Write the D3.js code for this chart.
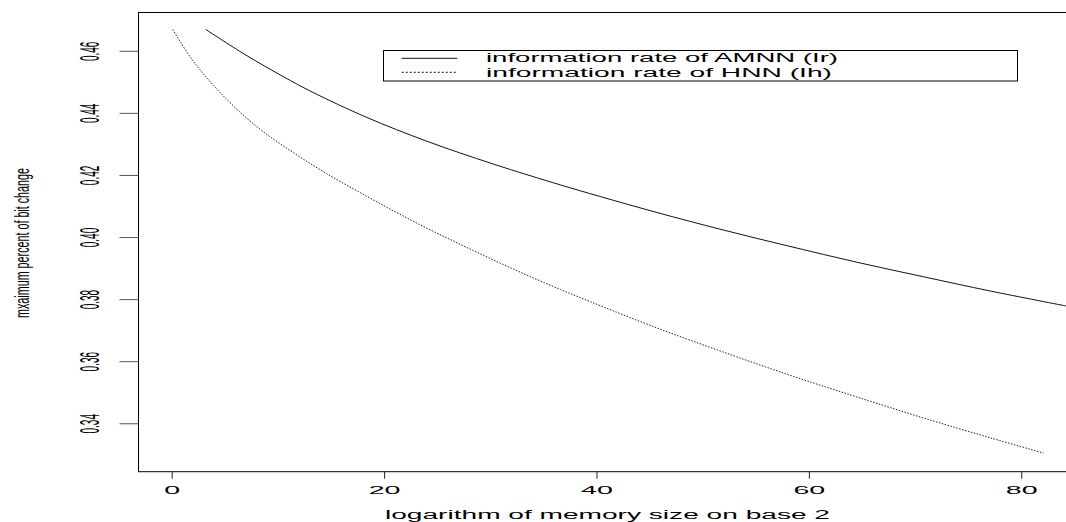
<!DOCTYPE html>
<html>
<head>
<meta charset="utf-8">
<script src="https://cdn.jsdelivr.net/npm/d3@7/dist/d3.min.js"></script>
<style>
  html, body { margin: 0; padding: 0; background: #fff; }
  svg { display: block; }
  text { font-family: "Liberation Sans", Arial, Helvetica, sans-serif; fill: #000; }
</style>
</head>
<body>
<svg id="chart" width="1066" height="522"></svg>
<script>
// ---- data ----
const irX = [3.2, 6.9, 10.5, 13.3, 18.4, 24.0, 30.3, 36.6, 40.3, 45.7, 51.9, 58.2, 64.5, 70.8, 77.1, 84.2];
const irY = [0.4669, 0.4588, 0.4517, 0.4466, 0.4385, 0.4309, 0.4235, 0.4168, 0.4131, 0.4079, 0.4023, 0.3970, 0.3919, 0.3872, 0.3826, 0.3778];
const ihX = [0.1, 2.0, 5.2, 8.3, 11.5, 14.6, 17.7, 20.9, 24.0, 27.2, 30.3, 33.4, 36.6, 39.4, 45.7, 51.9, 58.2, 64.5, 70.8, 77.1, 82.1];
const ihY = [0.4669, 0.4568, 0.4443, 0.4348, 0.4271, 0.4204, 0.4144, 0.4084, 0.4029, 0.3976, 0.3926, 0.3878, 0.3831, 0.3792, 0.3707, 0.3630, 0.3555, 0.3485, 0.3417, 0.3353, 0.3304];
const xTicks = [0, 20, 40, 60, 80];
const yTicks = [0.34, 0.36, 0.38, 0.40, 0.42, 0.44, 0.46];
const legendLabels = ["information rate of AMNN (Ir)", "information rate of HNN (Ih)"];
const xTitle = "logarithm of memory size on base 2";
const yTitle = "mxaimum percent of bit change";

// ---- layout ----
const L = 138, R = 1070, T = 12, B = 471.7;
const svg = d3.select("#chart");

const x = d3.scaleLinear().domain([-3.173, 84.59]).range([L, R]);
const y = d3.scaleLinear().domain([0.3244, 0.4725]).range([B, T]);

svg.append("defs").append("clipPath").attr("id", "clip")
  .append("rect").attr("x", L).attr("y", T).attr("width", R - L).attr("height", B - T);

// plot box
svg.append("rect")
  .attr("x", L + 0.5).attr("y", T + 0.5)
  .attr("width", R - L).attr("height", B - T - 0.5)
  .attr("fill", "none").attr("stroke", "#000").attr("stroke-width", 1);

// y axis
const gy = svg.append("g").attr("transform", `translate(${L + 0.5},0)`)
  .call(d3.axisLeft(y).tickValues(yTicks).tickSize(19).tickFormat(d3.format(".2f")));
gy.select(".domain").remove();
gy.selectAll(".tick line").attr("stroke", "#555");
gy.selectAll(".tick text")
  .attr("x", 0).attr("y", 0).attr("dy", 0)
  .attr("text-anchor", "middle")
  .attr("font-size", 10)
  .attr("fill", "#000")
  .attr("transform", "translate(-39.5,0) rotate(-90) scale(1,2.75)");

// x axis
const gx = svg.append("g").attr("transform", `translate(0,${B})`)
  .call(d3.axisBottom(x).tickValues(xTicks).tickSize(7).tickFormat(d3.format("d")));
gx.select(".domain").remove();
gx.selectAll(".tick line").attr("stroke", "#222");
gx.selectAll(".tick text")
  .attr("x", 0).attr("y", 0).attr("dy", 0)
  .attr("text-anchor", "middle")
  .attr("font-size", 11)
  .attr("fill", "#000")
  .attr("transform", "translate(0,22.6) scale(2.6,1)");

// axis titles
svg.append("text")
  .attr("x", 385).attr("y", 519)
  .attr("font-size", 12.5)
  .attr("textLength", 445).attr("lengthAdjust", "spacingAndGlyphs")
  .text(xTitle);

svg.append("text")
  .attr("transform", "translate(29,243) rotate(-90) scale(1,1.8)")
  .attr("text-anchor", "middle")
  .attr("font-size", 11)
  .attr("textLength", 150).attr("lengthAdjust", "spacingAndGlyphs")
  .text(yTitle);

// curves
const line = d3.line().x(d => x(d[0])).y(d => y(d[1])).curve(d3.curveCatmullRom.alpha(0.5));
const plot = svg.append("g").attr("clip-path", "url(#clip)");
plot.append("path")
  .datum(irX.map((v, i) => [v, irY[i]]))
  .attr("d", line)
  .attr("fill", "none").attr("stroke", "#111").attr("stroke-width", 1);
plot.append("path")
  .datum(ihX.map((v, i) => [v, ihY[i]]))
  .attr("d", line)
  .attr("fill", "none").attr("stroke", "#222").attr("stroke-width", 1)
  .attr("stroke-dasharray", "1.5,1.5");

// legend
const lg = svg.append("g");
lg.append("rect")
  .attr("x", 383.5).attr("y", 50.5).attr("width", 634).attr("height", 30.5)
  .attr("fill", "#fff").attr("stroke", "#000").attr("stroke-width", 1);
const dashes = [null, "2,2"];
const rowY = [58.3, 72.3];
const baseY = [62, 76.7];
const lens = [352, 346];
legendLabels.forEach((lab, i) => {
  lg.append("line")
    .attr("x1", 401.7).attr("x2", 457.3)
    .attr("y1", rowY[i]).attr("y2", rowY[i])
    .attr("stroke", "#111").attr("stroke-width", 1)
    .attr("stroke-dasharray", dashes[i]);
  lg.append("text")
    .attr("x", 486).attr("y", baseY[i])
    .attr("font-size", 12)
    .attr("textLength", lens[i]).attr("lengthAdjust", "spacingAndGlyphs")
    .text(lab);
});
</script>
</body>
</html>
